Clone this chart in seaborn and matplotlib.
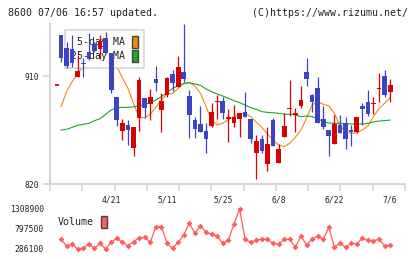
import numpy as np
import pandas as pd
import seaborn as sns
import matplotlib.pyplot as plt
from matplotlib.patches import Patch

#######################################
# data: 60 trading days up to 7/6
#######################################
opens = [944.2, 933.1, 932.2, 908.9, 921.0, 929.7, 936.7, 932.2, 941.4, 929.4,
         892.2, 864.4, 869.2, 850.3, 874.7, 891.4, 886.7, 907.2, 881.7, 894.2,
         911.7, 901.1, 913.3, 893.3, 873.3, 870.0, 864.2, 868.6, 888.0, 889.2,
         873.9, 870.6, 874.4, 880.0, 873.9, 845.6, 857.5, 836.4, 873.3, 837.8,
         859.4, 882.6, 877.5, 885.3, 913.1, 894.2, 899.7, 874.2, 865.0, 853.6,
         868.9, 870.6, 865.0, 863.6, 885.0, 888.3, 887.0, 899.4, 910.0, 896.9]
highs = [944.5, 938.6, 944.2, 927.5, 924.7, 945.6, 938.6, 944.2, 946.9, 929.4,
         892.2, 874.2, 873.3, 867.2, 909.4, 891.4, 898.9, 918.3, 896.1, 908.9,
         915.0, 926.9, 953.7, 898.3, 875.6, 885.0, 870.6, 887.2, 894.2, 892.2,
         882.2, 885.8, 878.9, 896.7, 873.9, 860.8, 860.8, 867.2, 874.7, 853.3,
         878.9, 906.7, 883.1, 901.7, 925.0, 895.0, 908.9, 885.0, 865.0, 877.5,
         877.5, 875.6, 868.9, 875.8, 887.2, 898.3, 892.2, 912.8, 915.0, 907.5]
lows = [921.9, 916.5, 917.8, 908.9, 909.4, 923.3, 930.0, 923.9, 929.0, 896.1,
        868.3, 856.7, 852.5, 843.3, 864.4, 874.7, 873.3, 897.8, 863.6, 892.8,
        897.8, 900.6, 905.3, 858.1, 858.1, 863.6, 845.6, 867.2, 873.9, 873.9,
        855.3, 867.2, 858.9, 875.6, 853.9, 823.9, 845.6, 831.1, 851.7, 837.8,
        859.4, 876.9, 863.6, 883.1, 901.9, 880.3, 870.6, 865.6, 843.6, 853.6,
        862.2, 849.4, 851.7, 862.2, 868.9, 876.7, 878.1, 888.6, 892.2, 888.6]
closes = [924.7, 918.3, 920.6, 914.4, 920.0, 923.9, 931.1, 939.2, 929.4, 898.3,
          873.3, 870.6, 865.0, 867.2, 906.7, 883.6, 892.2, 903.9, 889.4, 908.1,
          903.9, 917.2, 907.2, 877.5, 865.6, 863.6, 857.2, 880.0, 888.6, 878.9,
          875.8, 875.8, 878.9, 875.6, 857.2, 855.6, 847.8, 853.3, 851.7, 848.9,
          868.3, 883.1, 878.9, 890.0, 907.5, 888.6, 870.6, 867.2, 860.0, 870.0,
          862.2, 857.2, 863.6, 875.8, 882.2, 878.1, 887.5, 900.0, 894.2, 902.5]

ma5 = [884.4, 897.0, 905.3, 912.0, 918.0, 919.5, 922.5, 926.0, 929.0, 925.0,
       918.0, 908.5, 899.7, 887.2, 875.3, 875.3, 878.0, 884.0, 890.0, 895.0,
       895.5, 899.7, 903.9, 904.7, 901.7, 895.5, 884.4, 873.3, 869.2, 870.6,
       873.9, 876.1, 878.0, 878.9, 876.1, 871.5, 867.2, 861.7, 856.7, 852.5,
       851.1, 853.9, 858.9, 865.0, 874.7, 885.8, 888.6, 886.4, 885.0, 878.9,
       868.3, 863.6, 862.2, 862.8, 865.0, 868.3, 876.1, 883.1, 887.2, 892.2]
ma25 = [865.0, 865.6, 867.2, 868.9, 869.7, 870.6, 872.8, 874.4, 878.1, 881.7,
        883.6, 883.9, 883.9, 884.2, 885.3, 886.1, 887.8, 890.0, 892.8, 896.1,
        899.7, 901.9, 903.6, 904.4, 903.3, 902.2, 899.2, 896.9, 895.0, 893.3,
        891.4, 889.4, 887.8, 885.8, 883.6, 882.2, 880.3, 879.7, 879.4, 878.9,
        878.1, 878.1, 877.5, 876.1, 876.7, 876.1, 874.4, 871.9, 870.8, 870.6,
        870.6, 870.3, 870.0, 870.0, 870.0, 870.6, 871.7, 872.5, 872.8, 873.3]

volume = [534100, 362800, 414000, 286100, 304000, 414000, 304000, 431800, 286100, 457400,
          559700, 457400, 370500, 472800, 575000, 585300, 457400, 856300, 856300, 431800,
          304000, 457400, 644100, 943200, 687500, 874200, 713100, 669700, 618500, 431800,
          516200, 925400, 1308900, 534100, 457400, 516200, 534100, 534100, 431800, 406300,
          534100, 534100, 329600, 618500, 388400, 534100, 618500, 534100, 841000, 329600,
          431800, 329600, 431800, 414000, 559700, 516200, 498300, 534100, 362800, 388400]

date_labels = ['4/21', '5/11', '5/25', '6/8', '6/22', '7/6']
date_pos = [9, 19, 29, 39, 49, 59]
price_ticks = [910, 820]
vol_ticks = [286100, 797500, 1308900]

df = pd.DataFrame({'open': opens, 'high': highs, 'low': lows, 'close': closes,
                   'ma5': ma5, 'ma25': ma25, 'volume': volume})
df['idx'] = np.arange(len(df))

#######################################
# style
#######################################
sns.set_style('white')
plt.rcParams['font.family'] = ['DejaVu Sans Mono']
RED = '#d80000'
BLUE = '#3c44c4'
ORANGE = '#f08a10'
GREEN = '#1ea61e'
VOLC = '#ff5c5c'
GRID = '#d6d6d6'
TXT = '#222222'

W, H = 420, 259
fig = plt.figure(figsize=(W / 100, H / 100), dpi=100)
ax = fig.add_axes([50 / W, 1 - 184 / H, 355 / W, (184 - 23.5) / H])
vax = fig.add_axes([50 / W, 1 - 253 / H, 355 / W, 48 / H])
xlim = (-1.97, 61.65)

#######################################
# price panel
#######################################
sns.lineplot(data=df, x='idx', y='ma5', ax=ax, color=ORANGE, lw=0.8, zorder=1)
sns.lineplot(data=df, x='idx', y='ma25', ax=ax, color=GREEN, lw=0.8, zorder=1)

up = df['close'] >= df['open']
cols = np.where(up, RED, BLUE)
ax.vlines(df['idx'], df['low'], df['high'], colors=cols, lw=0.9, zorder=3)
body_lo = np.minimum(df['open'], df['close'])
body_h = np.maximum((df['close'] - df['open']).abs(), 0.8)
ax.bar(df['idx'], body_h, bottom=body_lo, width=0.84, color=cols, lw=0, zorder=3)

# last close marker on the left
ax.hlines(df['close'].iloc[-1], -1.08, -0.36, color=RED, lw=1.3, zorder=3)

ax.set_xlim(*xlim)
ax.set_ylim(820, 953.75)
ax.set_yticks(price_ticks)
ax.set_xticks(date_pos)
ax.set_xticklabels(date_labels)
ax.set_xticks(np.linspace(xlim[0], xlim[1], 12), minor=True)
ax.tick_params(axis='y', length=5, width=1.2, color=GRID, pad=3,
               labelsize=5.8, labelcolor=TXT, left=True)
ax.tick_params(axis='x', which='major', length=0, pad=8, labelsize=5.8, labelcolor=TXT)
ax.tick_params(axis='x', which='minor', length=5, width=1.2, color=GRID, bottom=True)
ax.set_xlabel('')
ax.set_ylabel('')
sns.despine(ax=ax)
for s in ['left', 'bottom']:
    ax.spines[s].set_color(GRID)
    ax.spines[s].set_linewidth(1.5)

handles = [Patch(facecolor=ORANGE, edgecolor='#444444', lw=1, label='5-day MA'),
           Patch(facecolor=GREEN, edgecolor='#444444', lw=1, label='25-day MA')]
leg = ax.legend(handles=handles, loc='upper left',
                bbox_to_anchor=(15 / 355, (184 - 30) / (184 - 23.5)),
                borderaxespad=0, markerfirst=False, handlelength=0.6,
                handleheight=1.5, handletextpad=0.7, labelspacing=0.2,
                borderpad=0.6, fontsize=7.1, frameon=True, fancybox=False,
                edgecolor=GRID, framealpha=1)
leg.get_frame().set_linewidth(1.2)
for t in leg.get_texts():
    t.set_color(TXT)
leg.set_zorder(2)

#######################################
# volume panel
#######################################
sns.lineplot(data=df, x='idx', y='volume', ax=vax, color=VOLC, lw=0.9,
             marker='D', markersize=3.0, markeredgewidth=0)
span = max(volume) - min(volume)
vax.set_xlim(*xlim)
vax.set_ylim(min(volume) - span * 0.1, max(volume) + span * 0.1)
vax.set_yticks(vol_ticks)
vax.set_yticklabels([str(v) for v in vol_ticks])
vax.set_xticks([])
vax.tick_params(axis='y', length=0, pad=4.3, labelsize=5.8, labelcolor=TXT)
vax.set_xlabel('')
vax.set_ylabel('')
vax.patch.set_alpha(0)
for s in vax.spines.values():
    s.set_visible(False)

vleg = vax.legend(handles=[Patch(facecolor=VOLC, edgecolor='#444444', lw=1, label='Volume')],
                  loc='center left', bbox_to_anchor=(8 / 355, (253 - 221.7) / 48),
                  borderaxespad=0, borderpad=0, frameon=False, markerfirst=False,
                  handlelength=0.6, handleheight=1.5, handletextpad=0.75, fontsize=7.1)
for t in vleg.get_texts():
    t.set_color(TXT)

#######################################
# header
#######################################
fig.text(8 / W, 1 - 13.3 / H, '8600 07/06 16:57 updated.', ha='left', va='center',
         fontsize=7.1, color=TXT)
fig.text(408 / W, 1 - 13.3 / H, '(C)https://www.rizumu.net/', ha='right', va='center',
         fontsize=7.1, color=TXT)

fig.savefig('out.png', dpi=100)
